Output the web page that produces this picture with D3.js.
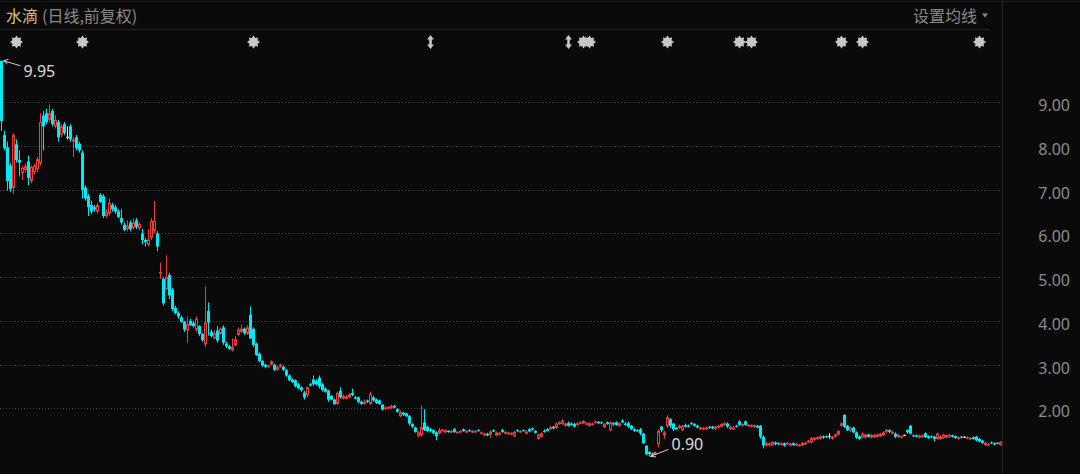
<!DOCTYPE html>
<html><head><meta charset="utf-8">
<script src="https://cdn.jsdelivr.net/npm/d3@7/dist/d3.min.js"></script>
<style>html,body{margin:0;padding:0;background:#0a0a0a;overflow:hidden}</style>
</head><body>
<svg id="c" width="1080" height="474"></svg>
<script>
// ---- data (daily candles, front-adjusted) ----
const opens=[
9.95,8.25,7.97,7.55,7.04,8.04,7.68,7.38,7.45,7.65,7.2,7.4,7.47,7.6,8.7,8.75,8.6,8.8,8.45,8.55,8.25,8.5,8.2,8.45,8.1,8.2,8.05,7.85,7.05,6.85,
6.65,6.6,6.5,6.88,6.85,6.4,6.45,6.65,6.6,6.5,6.35,6.2,6.1,6.25,6.12,6.3,6.12,6.0,5.85,5.74,5.9,6.06,6.0,
5.08,4.96,4.72,5.05,4.72,4.3,4.18,4.08,3.98,3.78,
4.0,3.95,3.8,3.88,3.7,3.46,4.23,3.75,3.6,3.78,
3.7,3.85,3.48,3.42,3.32,3.45,3.68,3.75,3.82,3.7,
4.14,3.82,3.48,3.25,3.08,3.0,2.95,3.0,3.0,2.88,
2.95,2.95,2.87,2.75,2.66,2.64,2.55,2.48,2.36,2.3,
2.55,2.66,2.62,2.7,2.55,2.45,2.4,2.28,2.2,2.1,
2.4,2.22,2.22,2.25,2.35,2.25,2.25,2.15,2.1,2.18,
2.1,2.25,2.2,2.18,2.08,1.98,2.0,2.0,2.05,
1.98,1.82,1.9,1.88,1.82,1.64,1.56,1.36,1.38,1.68,
1.58,1.52,1.5,1.45,1.42,1.5,1.45,1.48,1.45,1.52,
1.44,1.46,1.52,1.45,1.5,1.45,1.46,1.5,1.42,1.38,
1.42,1.4,1.5,1.38,1.4,1.5,1.42,1.42,1.4,1.36,
1.5,1.46,1.5,1.42,1.52,1.54,1.48,1.3,1.35,1.48,
1.52,1.52,1.58,1.55,1.64,1.64,1.6,1.66,1.65,1.64,
1.62,1.66,1.66,1.63,1.6,1.62,1.67,1.69,1.68,1.57,
1.68,1.5,1.66,1.68,1.6,1.72,1.65,1.66,1.6,1.52,
1.5,1.52,1.42,1.14,1.0,0.93,0.95,1.18,1.58,1.38,
1.59,1.75,1.65,1.55,1.55,1.5,1.62,1.6,1.66,1.64,1.6,
1.52,1.53,1.52,1.57,1.58,1.53,1.56,1.58,1.62,1.65,
1.52,1.52,1.6,1.7,1.6,1.7,1.6,1.58,1.57,1.6,
1.6,1.35,1.15,1.16,1.16,1.22,1.2,1.16,1.2,1.18,
1.15,1.2,1.15,1.14,1.15,1.18,1.22,1.22,1.28,1.3,
1.3,1.36,1.36,1.36,1.3,1.35,1.4,1.6,1.85,1.6,
1.48,1.56,1.45,1.36,1.33,1.33,1.4,1.33,1.34,1.35,
1.36,1.38,1.46,1.5,1.42,1.42,1.34,1.33,1.38,1.5,
1.6,1.38,1.38,1.33,1.34,1.43,1.36,1.36,1.35,1.3,
1.3,1.32,1.33,1.35,1.38,1.36,1.3,1.35,1.34,1.31,
1.29,1.34,1.35,1.3,1.26,1.16,1.16,1.22,1.2,1.21,1.16];
const highs=[
9.95,8.35,8.1,7.6,8.3,8.15,7.9,7.55,7.6,7.78,7.55,7.6,7.75,8.75,8.8,8.85,8.95,8.85,8.7,8.6,8.5,8.55,8.45,8.5,8.2,8.25,8.1,7.9,7.1,6.9,
6.75,6.65,6.7,6.92,6.9,6.55,6.8,6.7,6.65,6.55,6.55,6.25,6.3,6.3,6.35,6.35,6.25,6.1,5.9,6.1,6.35,6.74,6.05,
5.33,5.0,5.5,5.1,4.75,4.35,4.22,4.12,4.0,4.1,
4.05,4.0,4.1,3.9,3.72,4.79,4.42,3.8,3.78,3.88,
3.85,3.9,3.52,3.45,3.6,3.65,3.85,3.92,3.85,3.9,
4.33,3.85,3.5,3.28,3.1,3.02,3.0,3.1,3.02,2.98,
3.02,2.98,2.9,2.78,2.68,2.66,2.58,2.5,2.4,2.5,
2.58,2.75,2.66,2.75,2.58,2.48,2.42,2.3,2.22,2.38,
2.48,2.32,2.3,2.35,2.45,2.28,2.27,2.18,2.2,2.2,
2.38,2.28,2.22,2.2,2.1,2.05,2.05,2.08,2.08,
2.0,1.95,1.92,1.9,1.85,1.66,1.58,1.48,2.07,1.98,
1.6,1.55,1.52,1.47,1.55,1.53,1.52,1.5,1.5,1.55,
1.48,1.5,1.54,1.5,1.52,1.5,1.5,1.52,1.47,1.44,
1.44,1.5,1.52,1.47,1.46,1.53,1.48,1.46,1.45,1.48,
1.52,1.5,1.52,1.5,1.55,1.56,1.5,1.42,1.45,1.52,
1.55,1.6,1.6,1.68,1.7,1.75,1.67,1.7,1.68,1.67,
1.68,1.7,1.73,1.68,1.68,1.67,1.72,1.71,1.7,1.66,
1.7,1.7,1.68,1.7,1.68,1.75,1.68,1.7,1.62,1.54,
1.52,1.55,1.44,1.16,1.02,1.0,1.0,1.52,1.6,1.48,
1.84,1.77,1.67,1.57,1.63,1.62,1.65,1.63,1.69,1.66,1.62,
1.58,1.57,1.58,1.6,1.6,1.6,1.62,1.66,1.68,1.68,
1.6,1.6,1.62,1.73,1.66,1.72,1.64,1.63,1.63,1.62,
1.62,1.38,1.24,1.22,1.25,1.24,1.22,1.22,1.22,1.23,
1.21,1.22,1.21,1.18,1.23,1.23,1.28,1.35,1.34,1.36,
1.38,1.38,1.38,1.43,1.37,1.42,1.5,1.68,1.86,1.62,
1.58,1.58,1.47,1.38,1.45,1.42,1.42,1.41,1.41,1.42,
1.44,1.48,1.53,1.52,1.48,1.45,1.41,1.38,1.4,1.52,
1.62,1.4,1.4,1.4,1.4,1.45,1.38,1.38,1.37,1.44,
1.38,1.42,1.4,1.42,1.4,1.38,1.36,1.37,1.36,1.36,
1.34,1.36,1.37,1.32,1.28,1.24,1.2,1.24,1.22,1.23,1.25];
const lows=[
8.35,7.9,6.98,6.95,6.9,7.62,7.3,7.22,7.4,7.1,7.15,7.35,7.4,7.55,7.9,8.5,8.55,8.45,8.4,8.1,8.2,8.25,8.15,8.1,7.75,7.9,7.85,6.8,6.75,6.4,
6.45,6.5,6.45,6.7,6.35,6.35,6.4,6.5,6.45,6.35,6.2,6.05,6.05,6.05,6.1,6.1,6.08,5.75,5.7,5.7,5.85,6.0,5.6,
4.96,4.35,4.7,4.5,4.22,4.15,4.05,3.95,3.75,3.5,
3.88,3.85,3.75,3.65,3.52,3.4,3.66,3.62,3.58,3.5,
3.68,3.45,3.38,3.33,3.3,3.42,3.65,3.72,3.68,3.68,
3.58,3.4,3.2,3.05,2.95,2.92,2.92,2.98,2.85,2.86,
2.93,2.85,2.72,2.62,2.58,2.48,2.44,2.38,2.2,2.25,
2.5,2.52,2.52,2.45,2.38,2.36,2.15,2.18,2.08,2.08,
2.22,2.2,2.2,2.23,2.28,2.2,2.12,2.08,2.08,2.12,
2.08,2.15,2.1,2.08,1.95,1.96,1.98,1.98,2.0,
1.9,1.8,1.82,1.8,1.6,1.55,1.44,1.34,1.35,1.48,
1.45,1.45,1.4,1.27,1.4,1.47,1.43,1.44,1.43,1.44,
1.42,1.44,1.46,1.43,1.46,1.43,1.44,1.47,1.4,1.36,
1.36,1.32,1.46,1.36,1.38,1.44,1.4,1.4,1.38,1.34,
1.46,1.44,1.47,1.4,1.45,1.49,1.42,1.28,1.33,1.44,
1.47,1.5,1.52,1.53,1.62,1.62,1.58,1.58,1.6,1.56,
1.6,1.64,1.64,1.61,1.58,1.6,1.65,1.64,1.64,1.55,
1.62,1.48,1.6,1.6,1.58,1.66,1.6,1.55,1.5,1.46,
1.46,1.38,1.18,0.92,0.9,0.91,0.93,1.1,1.45,1.3,
1.55,1.55,1.48,1.5,1.53,1.48,1.56,1.56,1.62,1.58,1.54,
1.5,1.5,1.5,1.53,1.52,1.5,1.54,1.56,1.6,1.55,
1.5,1.5,1.56,1.6,1.58,1.6,1.58,1.56,1.55,1.54,
1.3,1.08,1.12,1.12,1.14,1.15,1.16,1.14,1.12,1.16,
1.13,1.14,1.13,1.12,1.13,1.16,1.2,1.2,1.26,1.28,
1.28,1.3,1.32,1.3,1.28,1.33,1.38,1.58,1.55,1.48,
1.46,1.42,1.3,1.28,1.31,1.31,1.33,1.31,1.32,1.33,
1.34,1.36,1.44,1.43,1.4,1.32,1.32,1.31,1.36,1.42,
1.4,1.34,1.33,1.31,1.32,1.32,1.3,1.32,1.24,1.28,
1.28,1.3,1.31,1.33,1.33,1.3,1.28,1.31,1.32,1.29,
1.27,1.28,1.24,1.22,1.18,1.14,1.14,1.18,1.15,1.18,1.14];
const closes=[
8.57,7.95,7.2,7.02,8.25,7.68,7.62,7.5,7.54,7.27,7.52,7.55,7.7,8.55,8.45,8.55,8.75,8.5,8.6,8.2,8.45,8.3,8.2,8.15,8.15,7.95,7.9,7.0,6.8,6.6,
6.5,6.55,6.65,6.72,6.4,6.5,6.7,6.55,6.5,6.38,6.25,6.08,6.18,6.1,6.25,6.15,6.22,5.85,5.8,5.86,6.29,6.29,5.7,
5.12,4.4,5.0,4.58,4.27,4.18,4.1,3.98,3.8,3.92,
3.9,3.88,4.05,3.7,3.56,3.96,3.96,3.65,3.72,3.55,
3.82,3.5,3.42,3.36,3.4,3.58,3.8,3.82,3.72,3.85,
3.6,3.45,3.22,3.08,2.98,2.95,2.98,3.08,2.88,2.95,
3.0,2.88,2.75,2.64,2.6,2.5,2.46,2.41,2.25,2.48,
2.52,2.55,2.55,2.5,2.42,2.38,2.2,2.2,2.1,2.35,
2.25,2.28,2.27,2.32,2.3,2.22,2.15,2.1,2.15,2.15,
2.33,2.18,2.12,2.1,1.97,2.02,2.03,2.05,2.02,
1.92,1.91,1.85,1.82,1.65,1.58,1.46,1.45,1.57,1.5,
1.48,1.48,1.43,1.36,1.5,1.51,1.5,1.46,1.48,1.46,
1.46,1.48,1.48,1.48,1.48,1.48,1.48,1.49,1.45,1.42,
1.38,1.47,1.47,1.45,1.44,1.46,1.46,1.44,1.44,1.46,
1.48,1.48,1.49,1.47,1.47,1.51,1.44,1.4,1.43,1.46,
1.48,1.57,1.54,1.65,1.68,1.72,1.65,1.6,1.62,1.58,
1.66,1.68,1.71,1.66,1.66,1.65,1.7,1.66,1.66,1.64,
1.64,1.68,1.63,1.62,1.66,1.68,1.62,1.58,1.52,1.48,
1.48,1.42,1.2,0.95,0.95,0.98,0.98,1.48,1.5,1.45,
1.8,1.6,1.52,1.52,1.6,1.6,1.58,1.58,1.64,1.6,1.56,
1.56,1.55,1.56,1.55,1.54,1.58,1.6,1.64,1.66,1.58,
1.57,1.56,1.58,1.62,1.64,1.62,1.62,1.62,1.61,1.56,
1.35,1.15,1.2,1.2,1.23,1.18,1.18,1.2,1.15,1.21,
1.19,1.16,1.19,1.17,1.21,1.21,1.26,1.32,1.32,1.34,
1.36,1.33,1.34,1.36,1.35,1.4,1.48,1.66,1.58,1.5,
1.55,1.45,1.33,1.3,1.42,1.4,1.35,1.39,1.39,1.4,
1.42,1.45,1.51,1.46,1.46,1.35,1.39,1.36,1.38,1.45,
1.42,1.36,1.35,1.38,1.38,1.34,1.32,1.34,1.3,1.42,
1.36,1.4,1.38,1.39,1.35,1.32,1.34,1.33,1.34,1.34,
1.32,1.3,1.27,1.24,1.21,1.21,1.18,1.2,1.17,1.2,1.23];
const yTicks=[9,8,7,6,5,4,3,2];
const eventIdx=[5,27,84,143,189,194,196,222,246,250,280,287,326];
const eventType=["star","star","star","arrow","arrow","star","star","star","star","star","star","star","star"];
const titleName="水滴", titleSub="(日线,前复权)", maLabel="设置均线";

// ---- drawing ----
const W=1080,H=474, plotRight=1002;
const UP='#f03c3c', DOWN='#00eaf6', FLAT='#dcdcdc', BG='#0a0a0a';
const svg=d3.select('#c');
svg.append('rect').attr('width',W).attr('height',H).attr('fill',BG);

const n=opens.length;
const x=d3.scaleBand().domain(d3.range(n)).range([0,plotRight]).padding(0);
const y=d3.scaleLinear().domain([9,2]).range([102.3,408.3]);
const cx=i=>x(i)+x.bandwidth()/2;
const px=i=>Math.floor(cx(i))+0.5; // crisp pixel center

// frame lines
svg.append('line').attr('x1',0).attr('x2',W).attr('y1',1.5).attr('y2',1.5).attr('stroke','#1c1c1c');
svg.append('line').attr('x1',0).attr('x2',990).attr('y1',29.5).attr('y2',29.5).attr('stroke','#222');
svg.append('line').attr('x1',plotRight+0.5).attr('x2',plotRight+0.5).attr('y1',0).attr('y2',H).attr('stroke','#222');

// grid
svg.append('g').selectAll('line').data(yTicks).join('line')
  .attr('x1',0).attr('x2',plotRight).attr('y1',d=>Math.round(y(d))+0.5).attr('y2',d=>Math.round(y(d))+0.5)
  .attr('stroke','#3d3d3d').attr('stroke-dasharray','1,2');

// y labels
svg.append('g').selectAll('text').data(yTicks).join('text')
  .attr('x',1070).attr('y',d=>y(d)+9).attr('text-anchor','end')
  .attr('font-family','"Noto Sans", "Open Sans", sans-serif').attr('font-size',16)
  .attr('fill','#8c8c8c').text(d=>d3.format('.2f')(d));

// title
const t=svg.append('text').attr('x',6).attr('y',22).attr('font-family','"Noto Sans CJK SC", sans-serif').attr('font-size',16);
t.append('tspan').attr('fill','#d2c283').text(titleName);
t.append('tspan').attr('fill','#8a8a8a').attr('dx',4).text(titleSub);
svg.append('text').attr('x',977).attr('y',22).attr('text-anchor','end')
  .attr('font-family','"Noto Sans CJK SC", sans-serif').attr('font-size',16).attr('fill','#8a8a8a').text(maLabel);
svg.append('path').attr('d','M982,13.5 L988,13.5 L985,17.5 Z').attr('fill','#8a8a8a');

// event markers
function starPath(x0,y0){
  const pts=[];
  for(let k=0;k<16;k++){const r=k%2===0?6.5:4.4;const a=k*Math.PI/8;pts.push([x0+r*Math.cos(a),y0+r*Math.sin(a)]);}
  return 'M'+pts.map(p=>p[0].toFixed(2)+','+p[1].toFixed(2)).join('L')+'Z';
}
function arrowPath(x0,y0){
  return `M${x0},${y0-7}L${x0+3.5},${y0-2.5}L${x0+1.3},${y0-2.5}L${x0+1.3},${y0+2.5}L${x0+3.5},${y0+2.5}L${x0},${y0+7}L${x0-3.5},${y0+2.5}L${x0-1.3},${y0+2.5}L${x0-1.3},${y0-2.5}L${x0-3.5},${y0-2.5}Z`;
}
svg.append('g').selectAll('path').data(eventIdx).join('path')
  .attr('d',(d,k)=>eventType[k]==='star'?starPath(cx(d),42):arrowPath(cx(d),42))
  .attr('fill','#c8c8c8');

// candles
const g=svg.append('g');
const idx=d3.range(n);
const colorOf=i=>closes[i]>opens[i]?UP:(closes[i]<opens[i]?DOWN:FLAT);
g.selectAll('line.w').data(idx).join('line').attr('class','w')
  .attr('x1',px).attr('x2',px)
  .attr('y1',i=>y(highs[i])).attr('y2',i=>y(lows[i]))
  .attr('stroke',colorOf).attr('stroke-width',1);
g.selectAll('rect.b').data(idx).join('rect').attr('class','b')
  .each(function(i){
    const sel=d3.select(this);
    const top=y(Math.max(opens[i],closes[i])), bot=y(Math.min(opens[i],closes[i]));
    const h=Math.max(1,bot-top);
    const p=px(i);
    if(closes[i]>opens[i]){
      sel.attr('x',p-1).attr('width',2).attr('y',top+0.5).attr('height',Math.max(0.5,h-1))
        .attr('fill',BG).attr('stroke',UP).attr('stroke-width',1);
    } else if(closes[i]<opens[i]){
      sel.attr('x',p-1.5).attr('width',3).attr('y',top).attr('height',h).attr('fill',DOWN);
    } else {
      sel.attr('x',p-1.5).attr('width',3).attr('y',top-0.5).attr('height',1).attr('fill',FLAT);
    }
  });

// max / min annotations
const iMax=d3.maxIndex(highs), iMin=d3.minIndex(lows);
const annot=svg.append('g').attr('stroke','#d0d0d0').attr('fill','none').attr('stroke-width',1);
const pxH=cx(iMax)+2, pyH=y(highs[iMax]);
annot.append('path').attr('d',`M${pxH},${pyH}L${pxH+17},${pyH+5}M${pxH},${pyH}L${pxH+5},${pyH-1.5}M${pxH},${pyH}L${pxH+4},${pyH+3}`);
const pxL=cx(iMin)+1, pyL=y(lows[iMin]);
annot.append('path').attr('d',`M${pxL},${pyL}L${pxL+18},${pyL-7}M${pxL},${pyL}L${pxL+5},${pyL-4.5}M${pxL},${pyL}L${pxL+5.5},${pyL+0.5}`);
svg.append('text').attr('x',pxH+20).attr('y',pyH+16).attr('font-family','"Noto Sans", sans-serif').attr('font-size',16)
  .attr('fill','#dcdcdc').text(d3.format('.2f')(highs[iMax]));
svg.append('text').attr('x',pxL+21).attr('y',pyL-6).attr('font-family','"Noto Sans", sans-serif').attr('font-size',16)
  .attr('fill','#dcdcdc').text(d3.format('.2f')(lows[iMin]));
</script>
</body></html>
